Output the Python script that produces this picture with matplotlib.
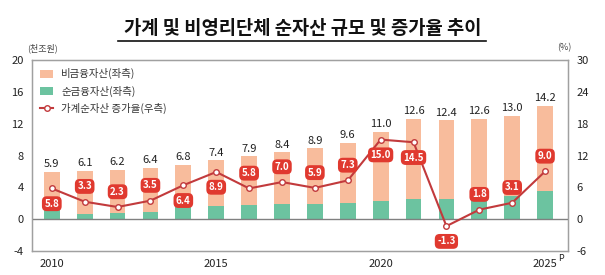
import matplotlib.pyplot as plt
import numpy as np

plt.rcParams['font.family'] = ['Noto Sans CJK KR', 'DejaVu Sans']
plt.rcParams['axes.unicode_minus'] = False

years = list(range(2010, 2026))
total = [5.9, 6.1, 6.2, 6.4, 6.8, 7.4, 7.9, 8.4, 8.9, 9.6, 11.0, 12.6, 12.4, 12.6, 13.0, 14.2]
net_fin = [1.2, 0.6, 0.75, 0.9, 1.5, 1.7, 1.75, 1.9, 1.85, 2.0, 2.3, 2.5, 2.5, 2.4, 2.9, 3.6]
growth = [5.8, 3.3, 2.3, 3.5, 6.4, 8.9, 5.8, 7.0, 5.9, 7.3, 15.0, 14.5, -1.3, 1.8, 3.1, 9.0]
label_pos = ['b', 'a', 'a', 'a', 'b', 'b', 'a', 'a', 'a', 'a', 'b', 'b', 'b', 'a', 'a', 'a']
xticklabels = ['2010', '2015', '2020', '2025']

non_fin = [t - n for t, n in zip(total, net_fin)]
x = np.arange(len(years))

c_nonfin = '#F8BC9C'
c_fin = '#6CC3A0'
c_line = '#C23A3C'
c_box = '#E0392F'
c_frame = '#A0A0A0'

fig = plt.figure(figsize=(6.05, 2.75), dpi=100)
ax = fig.add_axes([0.053, 0.087, 0.886, 0.695])

ax.bar(x, net_fin, width=0.48, color=c_fin, label='순금융자산(좌측)', zorder=2)
ax.bar(x, non_fin, width=0.48, bottom=net_fin, color=c_nonfin, label='비금융자산(좌측)', zorder=2)
for xi, t in zip(x, total):
    ax.text(xi, t + 0.35, f'{t:.1f}', ha='center', va='bottom', fontsize=8, color='#222222')

ax.set_ylim(-4, 20)
ax.set_yticks([-4, 0, 4, 8, 12, 16, 20])
ax.set_xlim(-0.6, 15.7)
ax.set_xticks([0, 5, 10, 15])
ax.set_xticklabels(xticklabels)
ax.axhline(0, color='#808080', lw=1.0, zorder=3)
for s in ax.spines.values():
    s.set_color(c_frame)
    s.set_linewidth(1.0)
ax.tick_params(length=0, labelsize=8, colors='#222222', pad=6)
# preliminary mark on the last year
ax.annotate('P', (15, 0), xycoords=('data', 'axes fraction'), xytext=(9.5, -5.5),
            textcoords='offset points', ha='left', va='center', fontsize=6.5, color='#222222')

ax2 = ax.twinx()
ax2.plot(x, growth, color=c_line, lw=1.5, marker='o', ms=4, mfc='white', mec=c_line,
         mew=1.0, label='가계순자산 증가율(우측)', zorder=4)
for xi, g, p in zip(x, growth, label_pos):
    dy = 11 if p == 'a' else -11
    ax2.annotate(f'{g:.1f}', (xi, g), xytext=(0, dy), textcoords='offset points',
                 ha='center', va='center', fontsize=7, color='white', fontweight='bold',
                 bbox=dict(boxstyle='round,pad=0.25,rounding_size=0.5', fc=c_box, ec='none'),
                 zorder=5)
ax2.set_ylim(-6, 30)
ax2.set_yticks([-6, 0, 6, 12, 18, 24, 30])
ax2.tick_params(length=0, labelsize=8, colors='#222222', pad=6)
for s in ax2.spines.values():
    s.set_color(c_frame)

h1, l1 = ax.get_legend_handles_labels()
h2, l2 = ax2.get_legend_handles_labels()
leg = ax.legend([h1[1], h1[0], h2[0]], [l1[1], l1[0], l2[0]], loc='upper left',
                frameon=False, fontsize=7.5, handlelength=1.2, handleheight=0.8,
                borderaxespad=0.4, labelspacing=0.6)
for t in leg.get_texts():
    t.set_color('#333333')

fig.text(0.5, 0.895, '가계 및 비영리단체 순자산 규모 및 증가율 추이', ha='center', va='center',
         fontsize=13.5, fontweight='bold', color='#111111')
fig.add_artist(plt.Line2D([0.195, 0.803], [0.852, 0.852], color='#111111', lw=1.2))
fig.text(0.045, 0.825, '(천조원)', ha='left', va='center', fontsize=6.5, color='#444444')
fig.text(0.945, 0.825, '(%)', ha='right', va='center', fontsize=6.5, color='#444444')

fig.savefig('out.png', dpi=100)
